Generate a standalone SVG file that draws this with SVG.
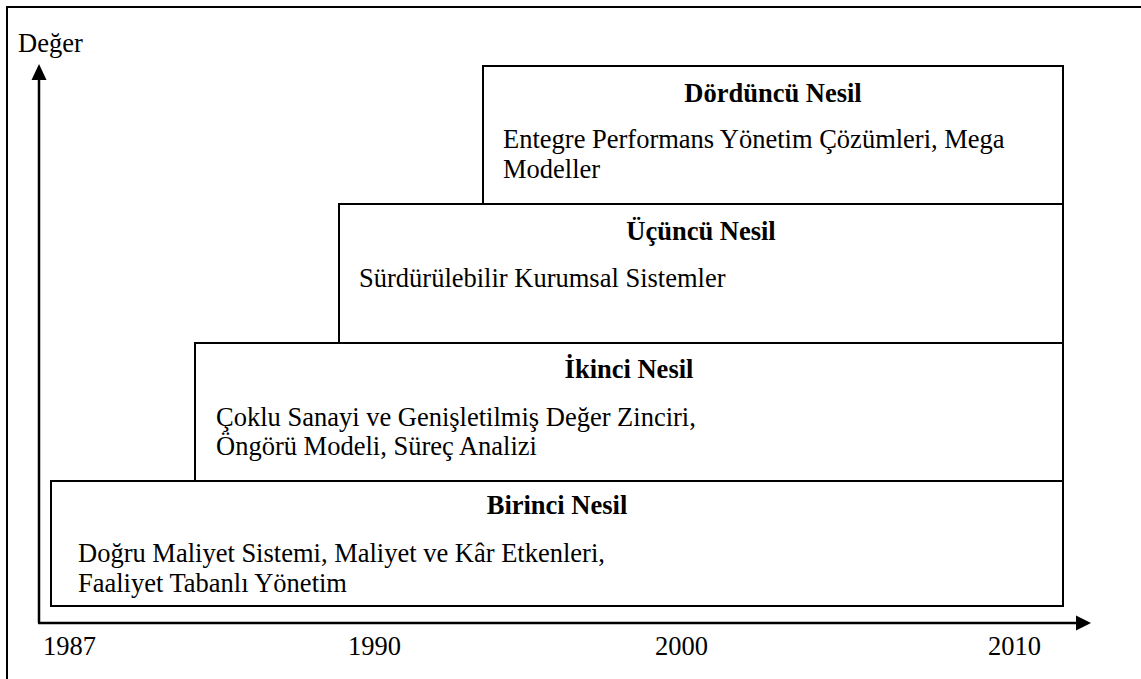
<svg xmlns="http://www.w3.org/2000/svg" width="1141" height="679" viewBox="0 0 1141 679">
<defs>
<style>
text{font-family:'Liberation Serif','Times New Roman','DejaVu Serif',serif;font-size:26.5px;fill:#000}
.h{font-weight:bold;text-anchor:middle}
.box{fill:#fff;stroke:#000;stroke-width:2}
.ax{stroke:#000;stroke-width:2.5;fill:none}
</style>
</defs>
<rect x="0" y="0" width="1141" height="679" fill="#fff"/>
<rect x="7" y="7" width="1200" height="700" fill="none" stroke="#000" stroke-width="2"/>
<g font-family="'Liberation Serif','Times New Roman','DejaVu Serif',serif" font-size="26.5">
<g id="gen4">
<rect class="box" x="483" y="66" width="580" height="138"/>
<text class="h" x="773" y="102">Dördüncü Nesil</text>
<text x="503" y="148">Entegre Performans Yönetim Çözümleri, Mega</text>
<text x="503" y="178">Modeller</text>
</g>
<g id="gen3">
<rect class="box" x="339" y="204" width="724" height="139"/>
<text class="h" x="701" y="240">Üçüncü Nesil</text>
<text x="359" y="287">Sürdürülebilir Kurumsal Sistemler</text>
</g>
<g id="gen2">
<rect class="box" x="195" y="343" width="868" height="138"/>
<text class="h" x="629" y="378">İkinci Nesil</text>
<text x="216" y="426">Çoklu Sanayi ve Genişletilmiş Değer Zinciri,</text>
<text x="216" y="455">Öngörü Modeli, Süreç Analizi</text>
</g>
<g id="gen1">
<rect class="box" x="51" y="481" width="1012" height="125"/>
<text class="h" x="557" y="514">Birinci Nesil</text>
<text x="78" y="562">Doğru Maliyet Sistemi, Maliyet ve Kâr Etkenleri,</text>
<text x="78" y="592">Faaliyet Tabanlı Yönetim</text>
</g>
<g id="axes">
<path class="ax" d="M39,623 L39,80"/>
<path d="M31.5,80 L39,64 L46.5,80 z" fill="#000"/>
<path class="ax" d="M38,623 L1076,623"/>
<path d="M1076,615.5 L1091,623 L1076,630.5 z" fill="#000"/>
</g>
<g id="labels">
<text x="18" y="52">Değer</text>
<text x="43" y="655">1987</text>
<text x="348" y="655">1990</text>
<text x="655" y="655">2000</text>
<text x="988" y="655">2010</text>
</g>
</g>
</svg>
